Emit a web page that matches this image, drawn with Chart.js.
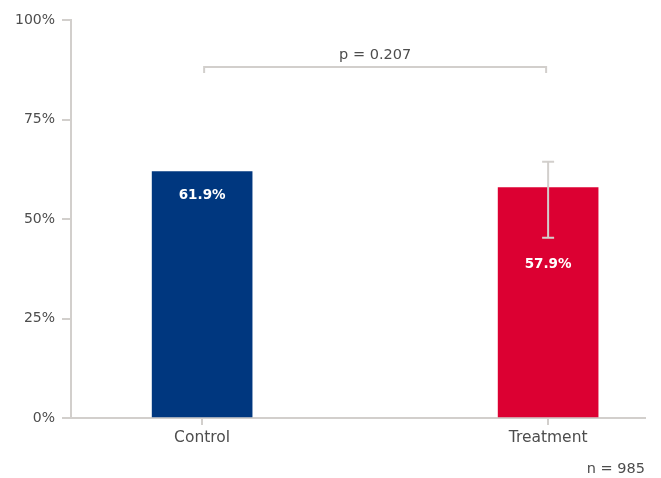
<!DOCTYPE html>
<html>
<head>
<meta charset="utf-8">
<script src="https://cdn.jsdelivr.net/npm/chart.js@4.4.1/dist/chart.umd.min.js"></script>
<style>
  html, body { margin: 0; padding: 0; background: #fff; }
  #wrap { width: 661px; height: 478px; position: relative; }
</style>
</head>
<body>
<div id="wrap"><canvas id="chart"></canvas></div>
<script>
// --- data ---
const groups = ['Control', 'Treatment'];
const rates = [61.9, 57.9];
const errLow = [null, 45.3];
const errHigh = [null, 64.4];
const barColors = ['#00377f', '#dc0032'];
const yTicks = [0, 25, 50, 75, 100];
const pLabel = 'p = 0.207';
const bracketLevel = 88.2;
const sampleLabel = 'n = 985';

const AXIS = '#d2cfcc';
const TEXT = '#4d4d4d';
const FONT = "'DejaVu Sans', sans-serif";

// error bars, in-bar value labels, p-value bracket and sample size
const overlayPlugin = {
    id: 'overlay',
    afterDatasetsDraw(chart) {
        const { ctx, scales: { x, y }, chartArea } = chart;
        const meta = chart.getDatasetMeta(0);
        ctx.save();

        // error bars
        ctx.strokeStyle = AXIS;
        ctx.lineWidth = 2;
        groups.forEach((g, i) => {
            if (errLow[i] == null) return;
            const px = x.getPixelForValue(i);
            const yl = y.getPixelForValue(errLow[i]);
            const yh = y.getPixelForValue(errHigh[i]);
            ctx.beginPath();
            ctx.moveTo(px, yl); ctx.lineTo(px, yh);
            ctx.moveTo(px - 6, yl); ctx.lineTo(px + 6, yl);
            ctx.moveTo(px - 6, yh); ctx.lineTo(px + 6, yh);
            ctx.stroke();
        });

        // value labels inside bars, kept clear of the error bar
        ctx.fillStyle = '#fff';
        ctx.font = `bold 13.5px ${FONT}`;
        ctx.textAlign = 'center';
        ctx.textBaseline = 'middle';
        meta.data.forEach((bar, i) => {
            const yPos = errLow[i] != null
                ? Math.max(bar.y, y.getPixelForValue(errLow[i])) + 27
                : bar.y + 24;
            ctx.fillText(rates[i].toFixed(1) + '%', bar.x, yPos);
        });

        // significance bracket
        const bx0 = x.getPixelForValue(0) + 2;
        const bx1 = x.getPixelForValue(1) - 2;
        const by = y.getPixelForValue(bracketLevel);
        ctx.strokeStyle = AXIS;
        ctx.lineWidth = 2;
        ctx.beginPath();
        ctx.moveTo(bx0, by + 6); ctx.lineTo(bx0, by);
        ctx.lineTo(bx1, by); ctx.lineTo(bx1, by + 6);
        ctx.stroke();
        ctx.fillStyle = TEXT;
        ctx.font = `14.5px ${FONT}`;
        ctx.textBaseline = 'alphabetic';
        ctx.fillText(pLabel, (bx0 + bx1) / 2, by - 8);

        // sample size
        ctx.font = `14.5px ${FONT}`;
        ctx.textAlign = 'right';
        ctx.fillText(sampleLabel, chartArea.right, chartArea.bottom + 55);
        ctx.restore();
    }
};

new Chart(document.getElementById('chart'), {
    type: 'bar',
    data: {
        datasets: [{
            data: rates.map((v, i) => ({ x: i, y: v })),
            backgroundColor: barColors,
            barThickness: 100
        }]
    },
    options: {
        responsive: true,
        maintainAspectRatio: false,
        animation: false,
        layout: { padding: { top: 20, right: 16, bottom: 0, left: 0 } },
        plugins: { legend: { display: false }, tooltip: { enabled: false } },
        scales: {
            x: {
                type: 'linear',
                min: -0.379,
                max: 1.28,
                offset: false,
                afterBuildTicks: s => { s.ticks = groups.map((g, i) => ({ value: i })); },
                afterFit: s => { s.height = 60; },
                ticks: {
                    callback: v => groups[v],
                    color: TEXT,
                    font: { family: FONT, size: 15.5 },
                    padding: 4
                },
                grid: { offset: false, drawOnChartArea: false, drawTicks: true, tickLength: 7, color: AXIS, lineWidth: 2 },
                border: { color: AXIS, width: 2 }
            },
            y: {
                min: 0,
                max: 100,
                afterBuildTicks: s => { s.ticks = yTicks.map(v => ({ value: v })); },
                afterFit: s => { s.width = 71; },
                ticks: {
                    callback: v => v + '%',
                    color: TEXT,
                    font: { family: FONT, size: 14 },
                    padding: 7
                },
                grid: { drawOnChartArea: false, drawTicks: true, tickLength: 9, color: AXIS, lineWidth: 2 },
                border: { color: AXIS, width: 2 }
            }
        }
    },
    plugins: [overlayPlugin]
});
</script>
</body>
</html>
